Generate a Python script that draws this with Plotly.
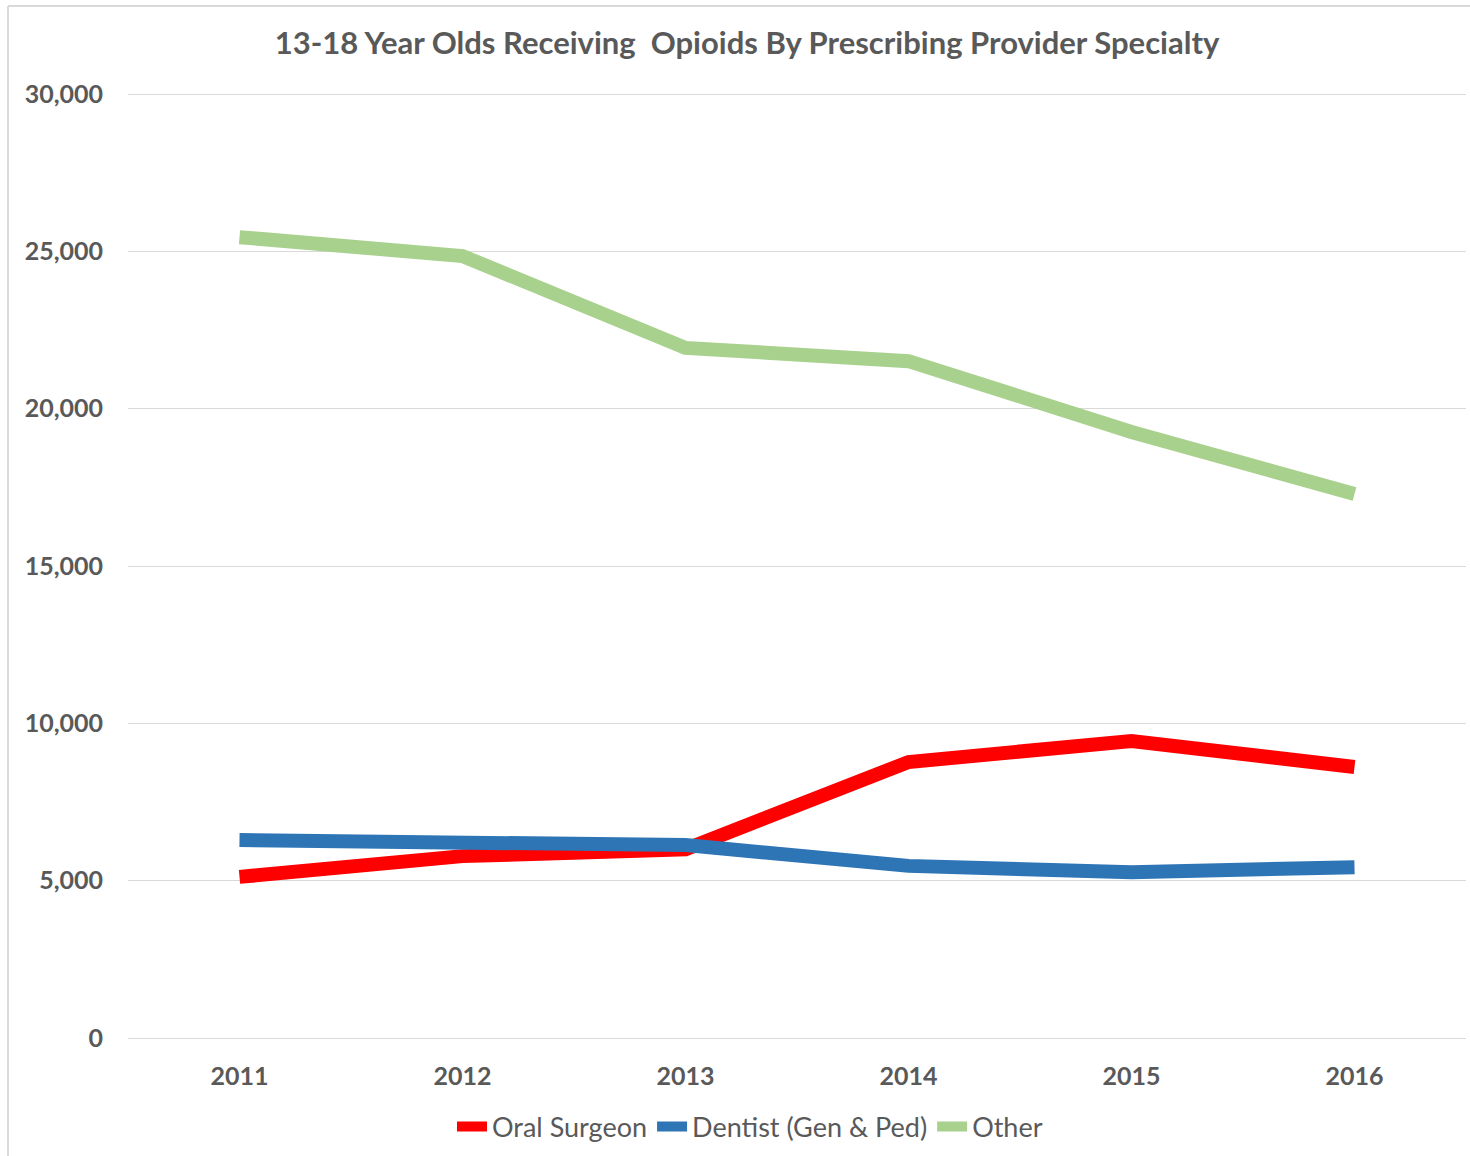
import plotly.graph_objects as go

years = ["2011", "2012", "2013", "2014", "2015", "2016"]
oral_surgeon = [5120, 5780, 6000, 8770, 9440, 8610]
dentist = [6290, 6230, 6130, 5470, 5270, 5430]
other = [25450, 24850, 21930, 21510, 19260, 17290]

series = [
    ("Oral Surgeon", oral_surgeon, "#FF0000"),
    ("Dentist (Gen & Ped)", dentist, "#2E75B6"),
    ("Other", other, "#A9D18E"),
]

FONT = "Lato, 'Open Sans', sans-serif"
GRAY = "#595959"

fig = go.Figure()
for name, vals, color in series:
    fig.add_trace(go.Scatter(
        x=years, y=vals, name=name, mode="lines",
        line=dict(color=color, width=14),
    ))

PAD = 2 / (944 / 30000)  # 2px of padding in data units

fig.update_layout(
    width=1470, height=1156,
    paper_bgcolor="white", plot_bgcolor="white",
    margin=dict(l=128, r=4, t=92, b=116),
    title=dict(
        text="13-18 Year Olds Receiving  Opioids By Prescribing Provider Specialty",
        x=(747 - 128) / 1338, xanchor="center", xref="paper",
        y=1 - 43 / 1156, yanchor="middle", yref="container",
        font=dict(family=FONT, size=31, color=GRAY, weight="bold"),
    ),
    font=dict(family=FONT, color=GRAY),
    showlegend=True,
    legend=dict(
        orientation="h", x=(750 - 128) / 1338, xanchor="center", xref="paper",
        y=1 - 1127 / 1156, yanchor="middle", yref="container",
        font=dict(family=FONT, size=27, color=GRAY),
        itemwidth=30, tracegroupgap=0,
    ),
    xaxis=dict(
        type="category", range=[-0.5, 5.5],
        showgrid=False, showline=False, zeroline=False, ticks="",
        tickfont=dict(family=FONT, size=25, color=GRAY, weight="bold"),
        ticklabelstandoff=19,
    ),
    yaxis=dict(
        range=[-PAD, 30000 + PAD], tickvals=[0, 5000, 10000, 15000, 20000, 25000, 30000],
        tickformat=",", showgrid=True, gridcolor="#D9D9D9", gridwidth=1,
        zeroline=False, showline=False, ticks="",
        tickfont=dict(family=FONT, size=25, color=GRAY, weight="bold"),
        ticklabelstandoff=24,
    ),
    shapes=[
        dict(type="line", xref="paper", yref="paper",
             x0=-120 / 1338, x1=1.01, y0=1 + 86 / 948, y1=1 + 86 / 948,
             line=dict(color="#D9D9D9", width=2)),
        dict(type="line", xref="paper", yref="paper",
             x0=-120 / 1338, x1=-120 / 1338, y0=1 + 86 / 948, y1=-0.13,
             line=dict(color="#D9D9D9", width=2)),
    ],
)

fig.write_html("out.html")
